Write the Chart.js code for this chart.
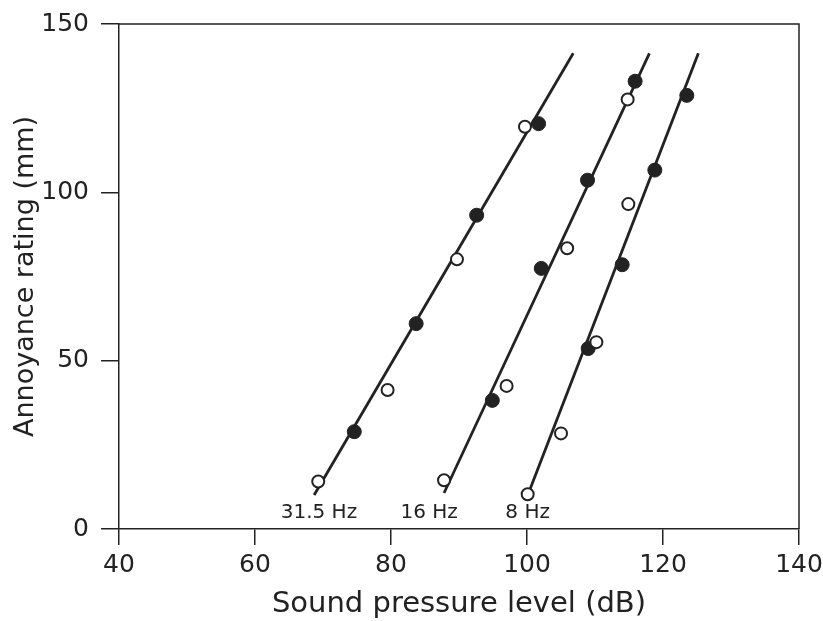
<!DOCTYPE html>
<html>
<head>
<meta charset="utf-8">
<script src="https://cdn.jsdelivr.net/npm/chart.js@4.4.1/dist/chart.umd.min.js"></script>
<style>
    html, body { margin: 0; padding: 0; background: #fff; }
    #wrap { width: 823px; height: 621px; }
</style>
</head>
<body>
<div id="wrap"><canvas id="myChart" width="823" height="621"></canvas></div>
<script>
// tick labels
var xTicks = [40, 60, 80, 100, 120, 140];
var yTicks = [0, 50, 100, 150];

// 31.5 Hz
var open31X = [69.3, 79.5, 89.7, 99.7];
var open31Y = [14.1, 41.3, 80.1, 119.5];
var filled31X = [74.6, 83.7, 92.6, 101.7];
var filled31Y = [28.9, 61.0, 93.2, 120.4];
var fit31X = [68.7, 106.8];
var fit31Y = [10.1, 141.3];

// 16 Hz
var open16X = [87.8, 97.0, 105.9, 114.8];
var open16Y = [14.5, 42.5, 83.4, 127.6];
var filled16X = [94.9, 102.1, 108.9, 115.9];
var filled16Y = [38.2, 77.4, 103.6, 133.0];
var fit16X = [87.8, 118.0];
var fit16Y = [10.7, 141.3];

// 8 Hz
var open8X = [100.1, 105.0, 110.2, 114.9];
var open8Y = [10.3, 28.4, 55.5, 96.5];
var filled8X = [109.0, 114.0, 118.8, 123.5];
var filled8Y = [53.6, 78.5, 106.6, 128.8];
var fit8X = [100.4, 125.2];
var fit8Y = [11.6, 141.3];

// curve labels under the lines
var curveNames = ['31.5 Hz', '16 Hz', '8 Hz'];
var curveLabelX = [69.4, 85.6, 100.1];
var curveLabelY = 4.8;

var ink = '#222';

function pts(xs, ys) {
    return xs.map(function(x, i) { return { x: x, y: ys[i] }; });
}

function fitLine(xs, ys) {
    return {
        data: pts(xs, ys),
        showLine: true,
        borderColor: ink,
        borderWidth: 2.8,
        pointRadius: 0,
        order: 2
    };
}

function openPts(xs, ys) {
    return {
        data: pts(xs, ys),
        pointRadius: 6,
        pointBorderWidth: 2,
        pointBorderColor: ink,
        pointBackgroundColor: '#fff',
        order: 1
    };
}

function filledPts(xs, ys) {
    return {
        data: pts(xs, ys),
        pointRadius: 7,
        pointBorderWidth: 1,
        pointBorderColor: ink,
        pointBackgroundColor: ink,
        order: 1
    };
}

// top and right sides of the frame
var framePlugin = {
    id: 'frame',
    afterDraw: function(chart) {
        var a = chart.chartArea;
        var c = chart.ctx;
        c.save();
        c.strokeStyle = ink;
        c.lineWidth = 1.5;
        c.beginPath();
        c.moveTo(a.left, a.top);
        c.lineTo(a.right, a.top);
        c.lineTo(a.right, a.bottom);
        c.stroke();
        c.restore();
    }
};

var curveLabelPlugin = {
    id: 'curveLabels',
    afterDatasetsDraw: function(chart) {
        var c = chart.ctx;
        var sx = chart.scales.x;
        var sy = chart.scales.y;
        c.save();
        c.fillStyle = ink;
        c.font = '20px "DejaVu Sans"';
        c.textAlign = 'center';
        c.textBaseline = 'middle';
        curveNames.forEach(function(name, i) {
            c.fillText(name, sx.getPixelForValue(curveLabelX[i]), sy.getPixelForValue(curveLabelY));
        });
        c.restore();
    }
};

var ctx = document.getElementById('myChart').getContext('2d');

var chart = new Chart(ctx, {
    type: 'scatter',
    data: {
        datasets: [
            fitLine(fit31X, fit31Y),
            fitLine(fit16X, fit16Y),
            fitLine(fit8X, fit8Y),
            openPts(open31X, open31Y),
            filledPts(filled31X, filled31Y),
            openPts(open16X, open16Y),
            filledPts(filled16X, filled16Y),
            openPts(open8X, open8Y),
            filledPts(filled8X, filled8Y)
        ]
    },
    options: {
        responsive: false,
        animation: false,
        layout: { padding: { top: 24, right: 24, left: 0, bottom: 0 } },
        plugins: {
            legend: { display: false },
            tooltip: { enabled: false }
        },
        scales: {
            x: {
                type: 'linear',
                min: 40,
                max: 140,
                afterBuildTicks: function(scale) {
                    scale.ticks = xTicks.map(function(v) { return { value: v }; });
                },
                afterFit: function(scale) {
                    scale.height = 92;
                    scale.paddingLeft = 0;
                    scale.paddingRight = 0;
                },
                ticks: {
                    color: ink,
                    font: { family: 'DejaVu Sans', size: 25 },
                    padding: 5,
                    maxRotation: 0
                },
                grid: {
                    drawOnChartArea: false,
                    color: ink,
                    lineWidth: 1.5,
                    tickLength: 16
                },
                border: { color: ink, width: 1.5 },
                title: {
                    display: true,
                    text: 'Sound pressure level (dB)',
                    color: ink,
                    font: { family: 'DejaVu Sans', size: 29, lineHeight: 1 },
                    padding: { top: 0, bottom: 2 }
                }
            },
            y: {
                type: 'linear',
                min: 0,
                max: 150,
                afterBuildTicks: function(scale) {
                    scale.ticks = yTicks.map(function(v) { return { value: v }; });
                },
                afterFit: function(scale) {
                    scale.width = 119;
                    scale.paddingTop = 0;
                    scale.paddingBottom = 0;
                },
                ticks: {
                    color: ink,
                    font: { family: 'DejaVu Sans', size: 25 },
                    padding: 12
                },
                grid: {
                    drawOnChartArea: false,
                    color: ink,
                    lineWidth: 1.5,
                    tickLength: 18
                },
                border: { color: ink, width: 1.5 },
                title: {
                    display: true,
                    text: 'Annoyance rating (mm)',
                    color: ink,
                    font: { family: 'DejaVu Sans', size: 27, lineHeight: 1.2 },
                    padding: { top: 10, bottom: 0 }
                }
            }
        }
    },
    plugins: [framePlugin, curveLabelPlugin]
});
</script>
</body>
</html>
